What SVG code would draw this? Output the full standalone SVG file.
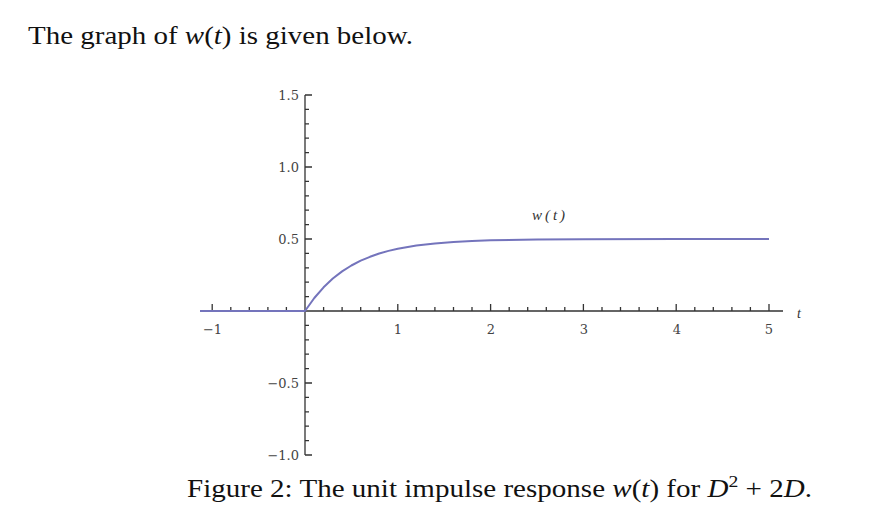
<svg xmlns="http://www.w3.org/2000/svg" width="889" height="522" viewBox="0 0 889 522">
<style>
.doc{font-family:"Liberation Serif","Times New Roman",serif;font-size:25px;fill:#111}
.it{font-style:italic}
.tick{font-family:"DejaVu Serif",serif;font-size:13px;fill:#444}
.ax{stroke:#333;stroke-width:1.3;fill:none}
.curve{stroke:#7474bc;stroke-width:2;fill:none;stroke-linejoin:round}
</style>
<rect width="889" height="522" fill="#fff"/>
<g id="title">
<text class="doc" x="28" y="44" textLength="385" lengthAdjust="spacingAndGlyphs">The graph of <tspan class="it">w</tspan>(<tspan class="it">t</tspan>) is given below.</text>
</g>
<g id="axes">
<path class="ax" d="M200 311H783M305 95V455"/>
<path class="ax" d="M212.2 311v-7M397.8 311v-7M490.6 311v-7M583.4 311v-7M676.2 311v-7M769 311v-7M305 95h7M305 167h7M305 239h7M305 383h7M305 455h7"/>
<path class="ax" stroke-width="1.1" d="M230.8 311v-4M249.3 311v-4M267.9 311v-4M286.4 311v-4M323.6 311v-4M342.1 311v-4M360.7 311v-4M379.2 311v-4M416.4 311v-4M434.9 311v-4M453.5 311v-4M472 311v-4M509.2 311v-4M527.7 311v-4M546.3 311v-4M564.8 311v-4M602 311v-4M620.5 311v-4M639.1 311v-4M657.6 311v-4M694.8 311v-4M713.3 311v-4M731.9 311v-4M750.4 311v-4M305 109.4h4M305 123.8h4M305 138.2h4M305 152.6h4M305 181.4h4M305 195.8h4M305 210.2h4M305 224.6h4M305 253.4h4M305 267.8h4M305 282.2h4M305 296.6h4M305 325.4h4M305 339.8h4M305 354.2h4M305 368.6h4M305 397.4h4M305 411.8h4M305 426.2h4M305 440.6h4"/>
</g>
<g id="tick-labels" class="tick">
<text x="212.5" y="334" text-anchor="middle">−1</text>
<text x="398" y="334" text-anchor="middle">1</text>
<text x="491" y="334" text-anchor="middle">2</text>
<text x="584" y="334" text-anchor="middle">3</text>
<text x="677" y="334" text-anchor="middle">4</text>
<text x="769" y="334" text-anchor="middle">5</text>
<text x="299" y="100" text-anchor="end">1.5</text>
<text x="299" y="172" text-anchor="end">1.0</text>
<text x="299" y="244" text-anchor="end">0.5</text>
<text x="299" y="388" text-anchor="end">−0.5</text>
<text x="299" y="460" text-anchor="end">−1.0</text>
</g>
<g id="t-label">
<text x="797" y="318" font-family="Liberation Serif, serif" font-style="italic" font-size="14" fill="#333">t</text>
</g>
<g id="curve">
<path class="curve" d="M200 311H305L314.3 298L323.6 287.3L332.8 278.5L342.1 271.4L351.4 265.5L360.7 260.7L370 256.8L379.2 253.5L388.5 250.9L397.8 248.7L416.4 245.5L434.9 243.4L453.5 241.9L472 241L490.6 240.3L537 239.5L583.4 239.2L676.2 239L769 239"/>
</g>
<g id="curve-label">
<text x="532" y="220" font-family="Liberation Serif, serif" font-style="italic" font-size="15" fill="#333" textLength="33" lengthAdjust="spacing">w(t)</text>
</g>
<g id="caption">
<text class="doc" x="187" y="497" textLength="625" lengthAdjust="spacingAndGlyphs">Figure 2: The unit impulse response <tspan class="it">w</tspan>(<tspan class="it">t</tspan>) for <tspan class="it">D</tspan><tspan font-size="17" dy="-10">2</tspan><tspan dy="10"> + 2</tspan><tspan class="it">D</tspan>.</text>
</g>
</svg>
